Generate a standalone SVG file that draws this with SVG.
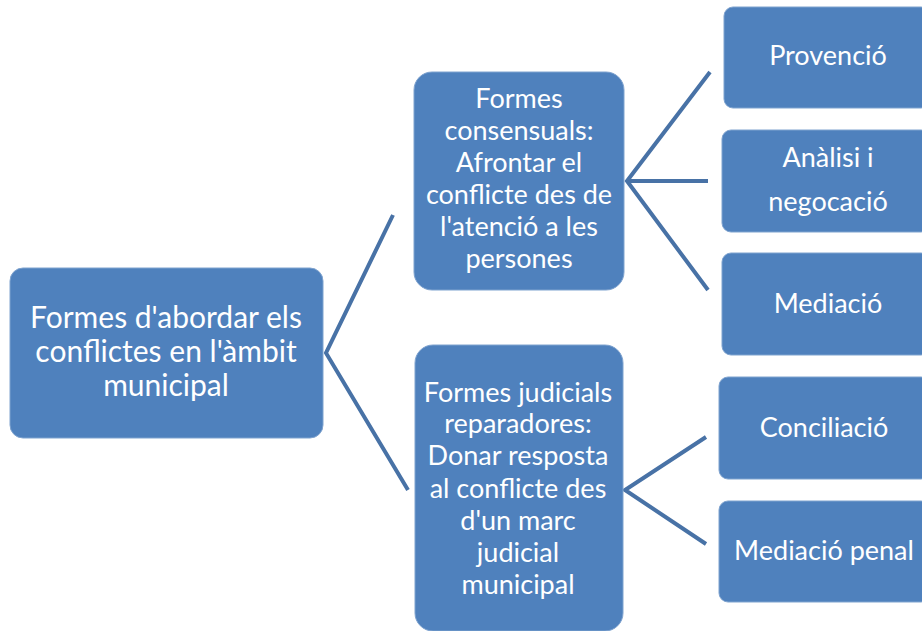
<svg xmlns="http://www.w3.org/2000/svg" width="922" height="631" viewBox="0 0 922 631">
<style>
.box{fill:#4F81BD;stroke:#7fa3cf;stroke-width:1}
.t{fill:#ffffff;font-family:Lato,"Open Sans","Liberation Sans",sans-serif;text-anchor:middle}
.r{font-size:30px}
.m{font-size:27px}
.c{fill:none;stroke:#4872A6;stroke-width:4;stroke-linejoin:miter}
</style>
<rect width="922" height="631" fill="#ffffff"/>
<g id="connectors">
<polyline class="c" points="393,215 326,353 408,490"/>
<polyline class="c" points="710,72 627,181 708,290"/>
<line class="c" x1="627" y1="181" x2="708" y2="181"/>
<polyline class="c" points="706,437 625,490 706,544"/>
</g>
<g id="root">
<rect class="box" x="10" y="268" width="313" height="170" rx="13"/>
<text class="t r" x="166" y="328">Formes d'abordar els</text>
<text class="t r" x="166" y="362">conflictes en l'àmbit</text>
<text class="t r" x="166" y="396">municipal</text>
</g>
<g id="consensuals">
<rect class="box" x="414" y="72" width="210" height="218" rx="18"/>
<text class="t m" x="519" y="108">Formes</text>
<text class="t m" x="519" y="140">consensuals:</text>
<text class="t m" x="519" y="172">Afrontar el</text>
<text class="t m" x="519" y="204">conflicte des de</text>
<text class="t m" x="519" y="236">l'atenció a les</text>
<text class="t m" x="519" y="268">persones</text>
</g>
<g id="judicials">
<rect class="box" x="415" y="345" width="208" height="286" rx="18"/>
<text class="t m" x="518" y="402">Formes judicials</text>
<text class="t m" x="518" y="433">reparadores:</text>
<text class="t m" x="518" y="465">Donar resposta</text>
<text class="t m" x="518" y="498">al conflicte des</text>
<text class="t m" x="518" y="530">d'un marc</text>
<text class="t m" x="518" y="562">judicial</text>
<text class="t m" x="518" y="594">municipal</text>
</g>
<g id="provencio">
<rect class="box" x="724" y="7" width="206" height="101" rx="9"/>
<text class="t m" x="828" y="65">Provenció</text>
</g>
<g id="analisi">
<rect class="box" x="722" y="130" width="208" height="102" rx="9"/>
<text class="t m" x="828" y="167">Anàlisi i</text>
<text class="t m" x="828" y="211">negocació</text>
</g>
<g id="mediacio">
<rect class="box" x="722" y="253" width="208" height="102" rx="9"/>
<text class="t m" x="828" y="313">Mediació</text>
</g>
<g id="conciliacio">
<rect class="box" x="719" y="377" width="211" height="102" rx="9"/>
<text class="t m" x="824" y="437">Conciliació</text>
</g>
<g id="mediacio-penal">
<rect class="box" x="719" y="501" width="211" height="101" rx="9"/>
<text class="t m" x="824" y="560">Mediació penal</text>
</g>
</svg>
